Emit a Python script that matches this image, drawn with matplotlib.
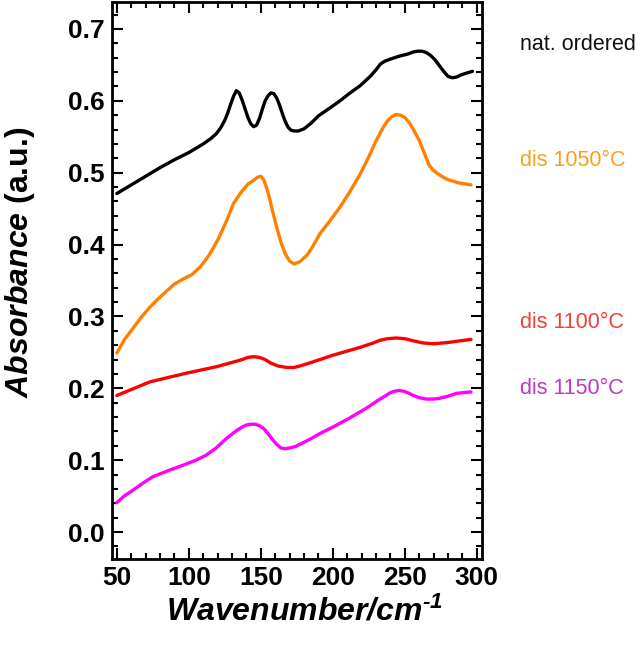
import matplotlib
matplotlib.use("Agg")
import matplotlib.pyplot as plt
from matplotlib.ticker import MultipleLocator

plt.rcParams["font.family"] = ["Liberation Sans", "DejaVu Sans"]
plt.rcParams["mathtext.fontset"] = "custom"
plt.rcParams["mathtext.it"] = "Liberation Sans:italic:bold"
plt.rcParams["mathtext.rm"] = "Liberation Sans:bold"
plt.rcParams["mathtext.default"] = "regular"

#  spectra (wavenumber in cm-1, absorbance in a.u.)
x_ordered = [50, 60, 70, 80, 90, 100, 110, 115, 119, 122, 125, 127, 129, 131, 133, 135, 137, 139, 141, 143, 145,
             147, 149, 151, 153, 155, 157, 159, 161, 163, 165, 167, 169, 171, 173, 176, 180, 185, 190, 198, 205,
             212, 219, 226, 230, 233, 236, 240, 246, 252, 256, 259, 262, 265, 268, 271, 274, 277, 280, 283,
             286, 289, 292, 297]
y_ordered = [0.471, 0.483, 0.495, 0.507, 0.518, 0.528, 0.540, 0.547, 0.554, 0.562, 0.573, 0.583, 0.595, 0.606,
             0.614, 0.611, 0.601, 0.589, 0.577, 0.568, 0.564, 0.566, 0.575, 0.588, 0.600, 0.607, 0.611, 0.610,
             0.604, 0.594, 0.582, 0.571, 0.563, 0.559, 0.558, 0.558, 0.561, 0.569, 0.579, 0.590, 0.600, 0.611,
             0.621, 0.634, 0.643, 0.651, 0.655, 0.658, 0.662, 0.665, 0.668, 0.669, 0.669, 0.667, 0.663, 0.657,
             0.649, 0.641, 0.634, 0.632, 0.633, 0.636, 0.638, 0.641]

x_1050 = [50, 55, 61, 67, 73, 79, 85, 90, 96, 102, 108, 114, 120, 126, 131, 136, 141, 144, 146, 148, 150, 152,
          154, 156, 158, 161, 164, 167, 170, 173, 177, 182, 186, 191, 198, 205, 212, 219, 225, 230, 235, 238,
          241, 244, 247, 250, 253, 256, 260, 264, 267, 270, 274, 279, 287, 296]
y_1050 = [0.249, 0.267, 0.283, 0.299, 0.313, 0.325, 0.336, 0.345, 0.352, 0.358, 0.369, 0.385, 0.406, 0.432,
          0.457, 0.472, 0.484, 0.488, 0.491, 0.494, 0.495, 0.490, 0.479, 0.465, 0.448, 0.424, 0.403, 0.387,
          0.377, 0.373, 0.376, 0.385, 0.397, 0.415, 0.433, 0.452, 0.474, 0.498, 0.522, 0.544, 0.563, 0.572,
          0.578, 0.581, 0.580, 0.577, 0.570, 0.560, 0.545, 0.525, 0.510, 0.503, 0.497, 0.491, 0.486, 0.483]

x_1100 = [50, 73, 96, 119, 130, 137, 141, 145, 149, 153, 157, 162, 168, 173, 177, 185, 200, 219, 228, 233, 238,
          244, 250, 256, 263, 270, 276, 281, 288, 296]
y_1100 = [0.190, 0.209, 0.220, 0.230, 0.236, 0.240, 0.243, 0.244, 0.243, 0.240, 0.235, 0.231, 0.229, 0.229,
          0.231, 0.236, 0.246, 0.257, 0.263, 0.267, 0.269, 0.270, 0.269, 0.266, 0.263, 0.262, 0.263, 0.264,
          0.266, 0.268]

x_1150 = [50, 55, 61, 68, 75, 85, 96, 105, 112, 119, 126, 133, 137, 140, 143, 146, 149, 152, 155, 158, 161, 164,
          167, 170, 174, 177, 184, 191, 200, 212, 223, 232, 237, 240, 243, 246, 249, 252, 256, 260, 265, 270,
          274, 280, 286, 291, 296]
y_1150 = [0.041, 0.050, 0.058, 0.068, 0.077, 0.085, 0.093, 0.100, 0.107, 0.117, 0.130, 0.141, 0.146, 0.149,
          0.150, 0.150, 0.148, 0.144, 0.137, 0.129, 0.122, 0.117, 0.116, 0.117, 0.119, 0.122, 0.129, 0.137,
          0.146, 0.159, 0.172, 0.184, 0.190, 0.194, 0.196, 0.197, 0.196, 0.194, 0.190, 0.187, 0.185, 0.185,
          0.186, 0.189, 0.193, 0.194, 0.195]

labels = ["nat. ordered", "dis 1050°C", "dis 1100°C", "dis 1150°C"]

fig = plt.figure(figsize=(6.39, 6.52), dpi=100)
ax = fig.add_axes([0.175, 0.1426, 0.579, 0.8544])

line_kw = dict(lw=2.4, solid_joinstyle="round", solid_capstyle="round")
ax.plot(x_ordered, y_ordered, color="black", **line_kw)
ax.plot(x_1050, y_1050, color="#FF8000", **line_kw)
ax.plot(x_1100, y_1100, color="#FF0000", **line_kw)
ax.plot(x_1150, y_1150, color="#FF00FF", **line_kw)

ax.set_xlim(46.5, 303.5)
ax.set_ylim(-0.0375, 0.7375)

#  frame ticks like mathematica
ax.xaxis.set_major_locator(MultipleLocator(50))
ax.xaxis.set_minor_locator(MultipleLocator(10))
ax.yaxis.set_major_locator(MultipleLocator(0.1))
ax.yaxis.set_minor_locator(MultipleLocator(0.02))
ax.yaxis.set_major_formatter(plt.FuncFormatter(lambda v, p: f"{v:.1f}"))
ax.tick_params(which="both", direction="in", top=True, right=True, width=1.5)
ax.tick_params(which="major", length=8, labelsize=19, pad=5)
ax.tick_params(which="minor", length=4)
for lab in ax.get_xticklabels() + ax.get_yticklabels():
    lab.set_fontweight("bold")
for sp in ax.spines.values():
    sp.set_linewidth(2)

fig.text(20 / 639, 1 - 262 / 652, r"$\mathit{Absorbance}$ (a.u.)", rotation=90, fontsize=23,
         fontweight="bold", ha="center", va="center")
fig.text(305 / 639, 1 - 612 / 652, "Wavenumber/cm$^{\u2010 1}$", fontsize=23, fontweight="bold",
         fontstyle="italic", ha="center", va="center")

#  curve labels to the right of the frame
label_colors = ["#111111", "#F5A020", "#F04038", "#C038C0"]
label_y = [45, 160, 322, 388]
for text, c, yy in zip(labels, label_colors, label_y):
    fig.text(520 / 639, 1 - yy / 652, text, color=c, fontsize=15.5, ha="left", va="center")

fig.savefig("out.png", dpi=100)
plt.close()
